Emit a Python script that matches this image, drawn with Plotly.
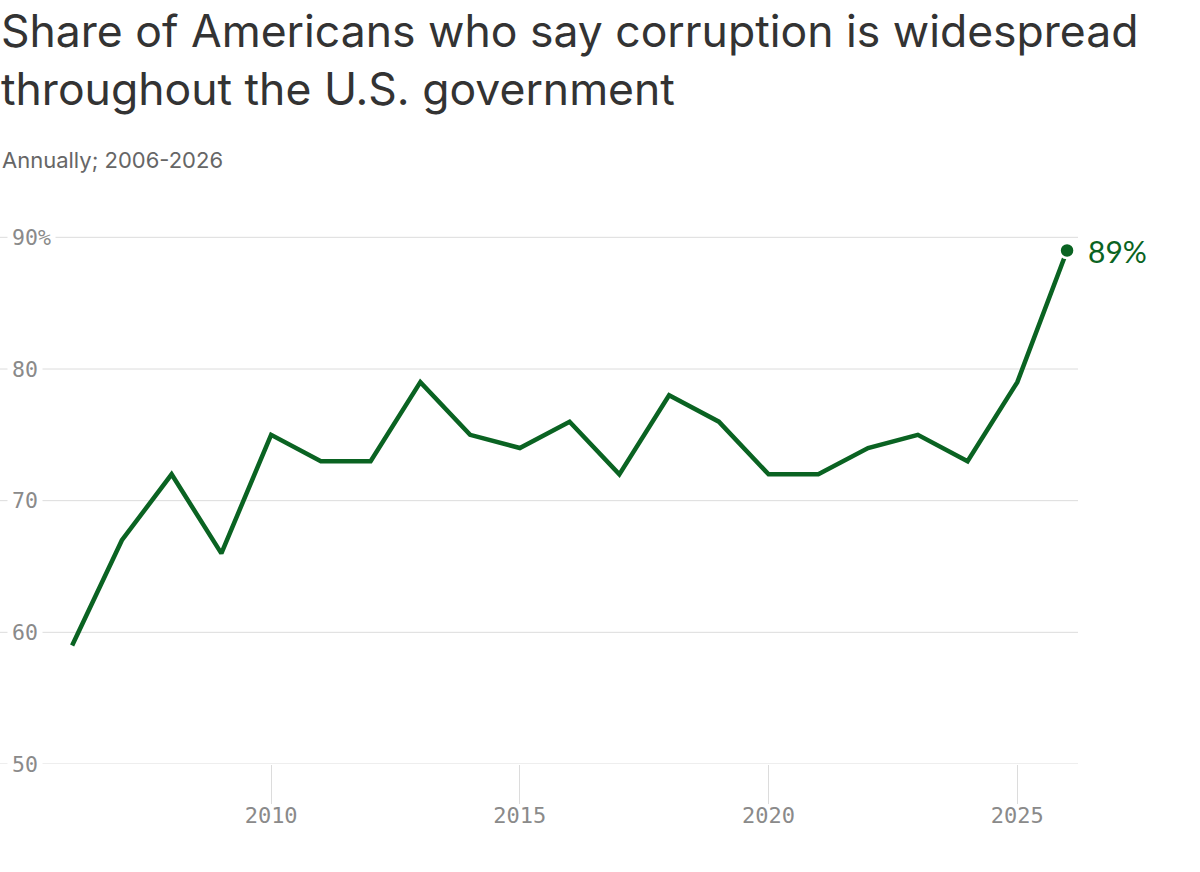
import plotly.graph_objects as go

# Part des Américains qui jugent la corruption répandue (%)
annees = list(range(2006, 2027))
valeurs = [59, 67, 72, 66, 75, 73, 73, 79, 75, 74, 76, 72, 78, 76, 72, 72, 74, 75, 73, 79, 89]

y_ticks = [50, 60, 70, 80, 90]
y_labels = ["50", "60", "70", "80", "90%"]
x_ticks = [2010, 2015, 2020, 2025]

titre = "Share of Americans who say corruption is widespread<br>throughout the U.S. government"
sous_titre = "Annually; 2006-2026"

vert = "#0a6322"
gris_grille = "#dcdcdc"
gris_texte = "#8a8a8a"
police_mono = "DejaVu Sans Mono"
haut_plot = 211  # px entre le haut de la page et le haut de la zone de tracé

fig = go.Figure()

# grilles horizontales (sous les étiquettes)
for v in y_ticks:
    fig.add_shape(type="line", xref="paper", x0=0, x1=1, yref="y", y0=v, y1=v,
                  line=dict(color=gris_grille, width=1), layer="below")

fig.add_trace(go.Scatter(
    x=annees, y=valeurs, mode="lines",
    line=dict(color=vert, width=4.5),
    hoverinfo="x+y", showlegend=False,
))

# point final
fig.add_trace(go.Scatter(
    x=[annees[-1]], y=[valeurs[-1]], mode="markers",
    marker=dict(color=vert, size=15, line=dict(color="white", width=2.5)),
    cliponaxis=False, showlegend=False, hoverinfo="skip",
))
fig.add_annotation(x=annees[-1], y=valeurs[-1], xref="x", yref="y",
                   text=f"{valeurs[-1]}%", showarrow=False,
                   xanchor="left", yanchor="middle", xshift=19,
                   font=dict(family="Lato", size=30, color=vert))

# étiquettes de l'axe y, alignées à gauche, fond blanc pour couper la grille
for v, lab in zip(y_ticks, y_labels):
    fig.add_annotation(x=0, xref="paper", y=v, yref="y", text=lab,
                       xanchor="left", yanchor="middle", showarrow=False,
                       xshift=7, bgcolor="white", borderpad=4,
                       font=dict(family=police_mono, size=21.5, color=gris_texte))

# titre et sous-titre
fig.add_annotation(x=0, xref="paper", y=1, yref="paper", yanchor="top",
                   yshift=haut_plot - 3, xanchor="left", align="left",
                   text=titre, showarrow=False, borderpad=0,
                   font=dict(family="Inter", size=44.5, color="#333333"))
fig.add_annotation(x=0, xref="paper", y=1, yref="paper", yanchor="middle",
                   yshift=haut_plot - 160, xanchor="left",
                   text=sous_titre, showarrow=False,
                   font=dict(family="Inter", size=22, color="#666666"))

fig.update_xaxes(
    range=[2004.55, 2026.22], tickvals=x_ticks, ticktext=[str(t) for t in x_ticks],
    ticks="outside", ticklen=39, tickcolor=gris_grille, tickwidth=1,
    ticklabelstandoff=-7,
    showgrid=False, zeroline=False, showline=False,
    tickfont=dict(family=police_mono, size=22, color=gris_texte),
)
fig.update_yaxes(range=[50, 92], showticklabels=False, showgrid=False,
                 zeroline=False, showline=False)

fig.update_layout(
    width=1200, height=872,
    margin=dict(l=0, r=122, t=haut_plot, b=108),
    paper_bgcolor="white", plot_bgcolor="white",
    showlegend=False,
)

fig.write_html("out.html", config={"displayModeBar": False},
               post_script="document.body.style.margin='0';")
